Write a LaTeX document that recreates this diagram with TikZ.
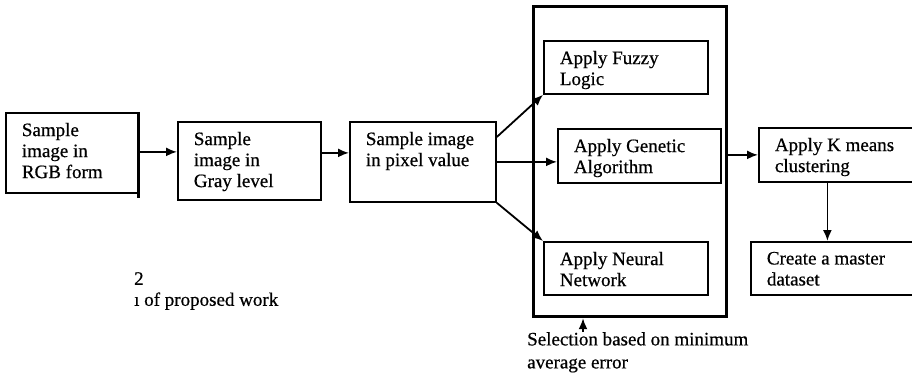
\documentclass[tikz,border=0pt]{standalone}
\usepackage{fontspec}
\setmainfont{Liberation Serif}[FakeBold=0.6]
\usepackage{tikz}
\usetikzlibrary{positioning,calc,arrows.meta}

\newcommand{\boxtxt}[3]{\parbox[c][#1][t]{#2}{\raggedright #3}}

\tikzset{
    blk/.style={draw, line width=1.8pt, anchor=north west, inner xsep=16pt, inner ysep=10pt},
    arr/.style={-{Latex[length=11pt,width=9pt]}, line width=1.8pt},
    txt/.style={font=\fontsize{19}{21}\selectfont}
}

\begin{document}
\begin{tikzpicture}[x=1pt, y=-1pt, txt]
    \useasboundingbox (0,0) rectangle (912,377);

    % Input side
    \node[blk] (rgb) at (5,112) {\boxtxt{60pt}{100pt}{Sample\\image in\\RGB form}};
    \draw[line width=3.2pt] (rgb.north east) -- ([yshift=-4pt]rgb.south east);
    \node[blk] (gray) at (177,121) {\boxtxt{58pt}{111pt}{Sample\\image in\\Gray level}};
    \node[blk] (pixel) at (349,121) {\boxtxt{60pt}{114pt}{Sample image\\in pixel value}};

    % Selection frame
    \node[draw, line width=3.2pt, anchor=north west, inner sep=0pt,
          minimum width=193pt, minimum height=310pt] (frame) at (532,5) {};
    \node[blk] (fuzzy) at (543,40) {\boxtxt{33pt}{132pt}{Apply Fuzzy\\Logic}};
    \node[blk] (genetic) at (557,128) {\boxtxt{34pt}{131pt}{Apply Genetic\\Algorithm}};
    \node[blk] (neural) at (543,241) {\boxtxt{33pt}{132pt}{Apply Neural\\Network}};

    % Output side
    \node[blk] (kmeans) at (758,127) {\boxtxt{34pt}{133pt}{Apply K means\\clustering}};
    \node[blk] (master) at (750,241) {\boxtxt{33pt}{138pt}{Create a master\\dataset}};

    % Notes
    \node[anchor=north west, align=left, inner sep=0pt,
          font=\fontsize{19}{23}\selectfont] (note) at (527,332) {Selection based on minimum\\average error};
    \node[anchor=north west, align=left, inner sep=0pt] (cap) at (134,272) {2\\\i{} of proposed work};

    % Connectors
    \draw[arr] ([yshift=1pt]rgb.east) -- ([yshift=1pt]rgb.east -| gray.west);
    \draw[arr] (gray.east |- rgb.east) -- (pixel.west |- rgb.east);
    \draw[arr] ([yshift=-16pt]pixel.north east) -- (fuzzy.south west);
    \draw[arr] (pixel.east) -- (pixel.east -| genetic.west);
    \draw[arr] (pixel.south east) -- (neural.north west);
    \draw[arr] (kmeans.west -| frame.east) -- (kmeans.west);
    \draw[arr] ([xshift=-14pt]kmeans.south) -- ([xshift=-14pt]kmeans.south |- master.north);
    \draw[arr] ([xshift=56pt]note.north west) -- ([xshift=56pt]note.north west |- frame.south);
\end{tikzpicture}
\end{document}
